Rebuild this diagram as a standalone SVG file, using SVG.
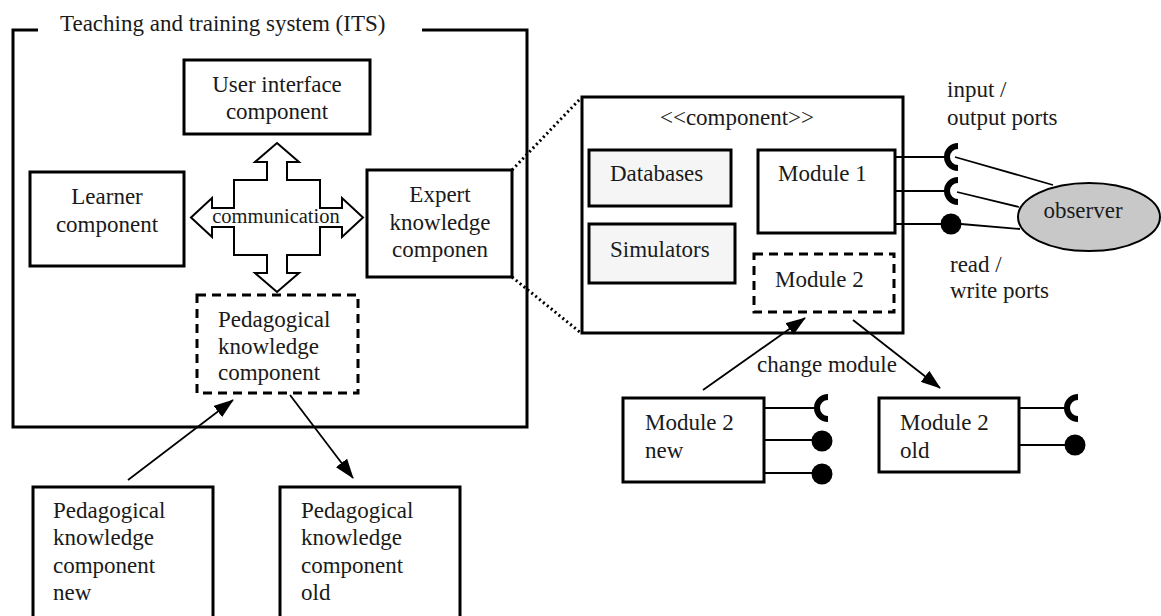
<svg xmlns="http://www.w3.org/2000/svg" width="1161" height="616" viewBox="0 0 1161 616" font-family="Liberation Serif, DejaVu Serif, serif">
<style>
text{font-family:'Liberation Serif',serif;font-size:23px;fill:#1a1a1a}
.box{fill:#fff;stroke:#000;stroke-width:3}
.gbox{fill:#f5f5f5;stroke:#000;stroke-width:3}
.dash{fill:#fff;stroke:#000;stroke-width:3;stroke-dasharray:9 6}
.ln{fill:none;stroke:#000;stroke-width:2}
.arr{fill:none;stroke:#000;stroke-width:1.8}
.dot{fill:none;stroke:#000;stroke-width:3;stroke-dasharray:2 3}
.cup{fill:none;stroke:#000;stroke-width:6}
.c{text-anchor:middle}
</style>
<defs>
<marker id="ah" viewBox="0 0 20 14" refX="19" refY="7" markerWidth="20" markerHeight="14" markerUnits="userSpaceOnUse" orient="auto">
<path d="M0,0 L20,7 L0,14 Z" fill="#000"/>
</marker>
</defs>

<g id="its">
<path class="ln" style="stroke-width:3" d="M38,30 L13,30 L13,427 L527,427 L527,30 L422,30"/>
<text x="60" y="31">Teaching and training system (ITS)</text>
</g>

<g id="user-interface">
<rect class="box" x="184" y="60" width="186" height="74"/>
<text class="c" x="277" y="92">User interface</text>
<text class="c" x="277" y="119">component</text>
</g>

<g id="learner">
<rect class="box" x="30" y="172" width="154" height="94"/>
<text class="c" x="107" y="204">Learner</text>
<text class="c" x="107" y="232">component</text>
</g>

<g id="expert">
<rect class="box" x="367" y="170" width="145" height="107"/>
<text class="c" x="440" y="202">Expert</text>
<text class="c" x="440" y="230">knowledge</text>
<text class="c" x="440" y="257">componen</text>
</g>

<g id="communication">
<path fill="#fff" stroke="#000" stroke-width="2" stroke-linejoin="miter" d="M277,143 L299,162 L287,162 L287,180 L320,180 L320,208 L342,208 L342,198 L363,217.5 L342,237 L342,227 L320,227 L320,255 L287,255 L287,273 L299,273 L277,292 L255,273 L267,273 L267,255 L234,255 L234,227 L212,227 L212,237 L191,217.5 L212,198 L212,208 L234,208 L234,180 L267,180 L267,162 L255,162 Z"/>
<text class="c" x="276" y="223" style="font-size:20.5px">communication</text>
</g>

<g id="pedagogical">
<rect class="dash" x="197" y="295" width="161" height="98"/>
<text x="218" y="327">Pedagogical</text>
<text x="218" y="354">knowledge</text>
<text x="218" y="380">component</text>
</g>

<g id="pedagogical-new">
<rect class="box" x="33" y="487" width="180" height="140"/>
<text x="53" y="518">Pedagogical</text>
<text x="53" y="545">knowledge</text>
<text x="53" y="573">component</text>
<text x="53" y="600">new</text>
</g>

<g id="pedagogical-old">
<rect class="box" x="280" y="487" width="180" height="140"/>
<text x="301" y="518">Pedagogical</text>
<text x="301" y="545">knowledge</text>
<text x="301" y="573">component</text>
<text x="301" y="600">old</text>
</g>

<g id="component">
<rect class="box" x="582" y="97" width="321" height="236"/>
<text class="c" x="737" y="125">&lt;&lt;component&gt;&gt;</text>
</g>

<g id="databases">
<rect class="gbox" x="589" y="150" width="142" height="56"/>
<text x="610" y="181">Databases</text>
</g>

<g id="simulators">
<rect class="gbox" x="589" y="224" width="146" height="59"/>
<text x="610" y="257">Simulators</text>
</g>

<g id="module1">
<rect class="box" x="758" y="150" width="137" height="83"/>
<text x="778" y="181">Module 1</text>
</g>

<g id="module2">
<rect class="dash" x="754" y="254" width="140" height="58"/>
<text x="775" y="287">Module 2</text>
</g>

<g id="module2-new">
<rect class="box" x="623" y="398" width="141" height="84"/>
<text x="645" y="430">Module 2</text>
<text x="645" y="458">new</text>
</g>

<g id="module2-old">
<rect class="box" x="879" y="398" width="140" height="74"/>
<text x="900" y="430">Module 2</text>
<text x="900" y="458">old</text>
</g>

<g id="observer">
<ellipse cx="1089" cy="217" rx="71" ry="34" fill="#c8c8c8" stroke="#000" stroke-width="2"/>
<text class="c" x="1083" y="218">observer</text>
</g>

<g id="labels">
<text x="947" y="97">input /</text>
<text x="947" y="125">output ports</text>
<text x="950" y="272">read /</text>
<text x="950" y="298">write ports</text>
<text x="757" y="372">change module</text>
</g>

<g id="ports">
<line class="ln" x1="895" y1="157" x2="948" y2="157"/>
<line class="ln" x1="895" y1="191" x2="948" y2="191"/>
<line class="ln" x1="895" y1="224" x2="945" y2="224"/>
<path class="cup" d="M958,146 A11,11 0 0 0 958,168"/>
<path class="cup" d="M958,180 A11,11 0 0 0 958,202"/>
<circle cx="951" cy="224" r="10.5" fill="#000"/>

<line class="ln" x1="764" y1="408" x2="818" y2="408"/>
<line class="ln" x1="764" y1="440" x2="814" y2="440"/>
<line class="ln" x1="764" y1="473" x2="814" y2="473"/>
<path class="cup" d="M828,397 A11,11 0 0 0 828,419"/>
<circle cx="822" cy="441" r="10.5" fill="#000"/>
<circle cx="822" cy="474" r="10.5" fill="#000"/>

<line class="ln" x1="1019" y1="408" x2="1068" y2="408"/>
<line class="ln" x1="1019" y1="445" x2="1067" y2="445"/>
<path class="cup" d="M1078,397 A11,11 0 0 0 1078,419"/>
<circle cx="1075" cy="445" r="10.5" fill="#000"/>
</g>

<g id="connectors">
<line class="dot" x1="512" y1="170" x2="581" y2="98"/>
<line class="dot" x1="512" y1="277" x2="581" y2="333"/>
<line class="arr" x1="128" y1="480" x2="233" y2="400" marker-end="url(#ah)"/>
<line class="arr" x1="290" y1="395" x2="353" y2="478" marker-end="url(#ah)"/>
<line class="arr" x1="703" y1="390" x2="805" y2="318" marker-end="url(#ah)"/>
<line class="arr" x1="853" y1="320" x2="940" y2="388" marker-end="url(#ah)"/>
<line class="arr" x1="955" y1="157" x2="1053" y2="185"/>
<line class="arr" x1="957" y1="192" x2="1019" y2="207"/>
<line class="arr" x1="961" y1="224" x2="1020" y2="229"/>
</g>
</svg>
